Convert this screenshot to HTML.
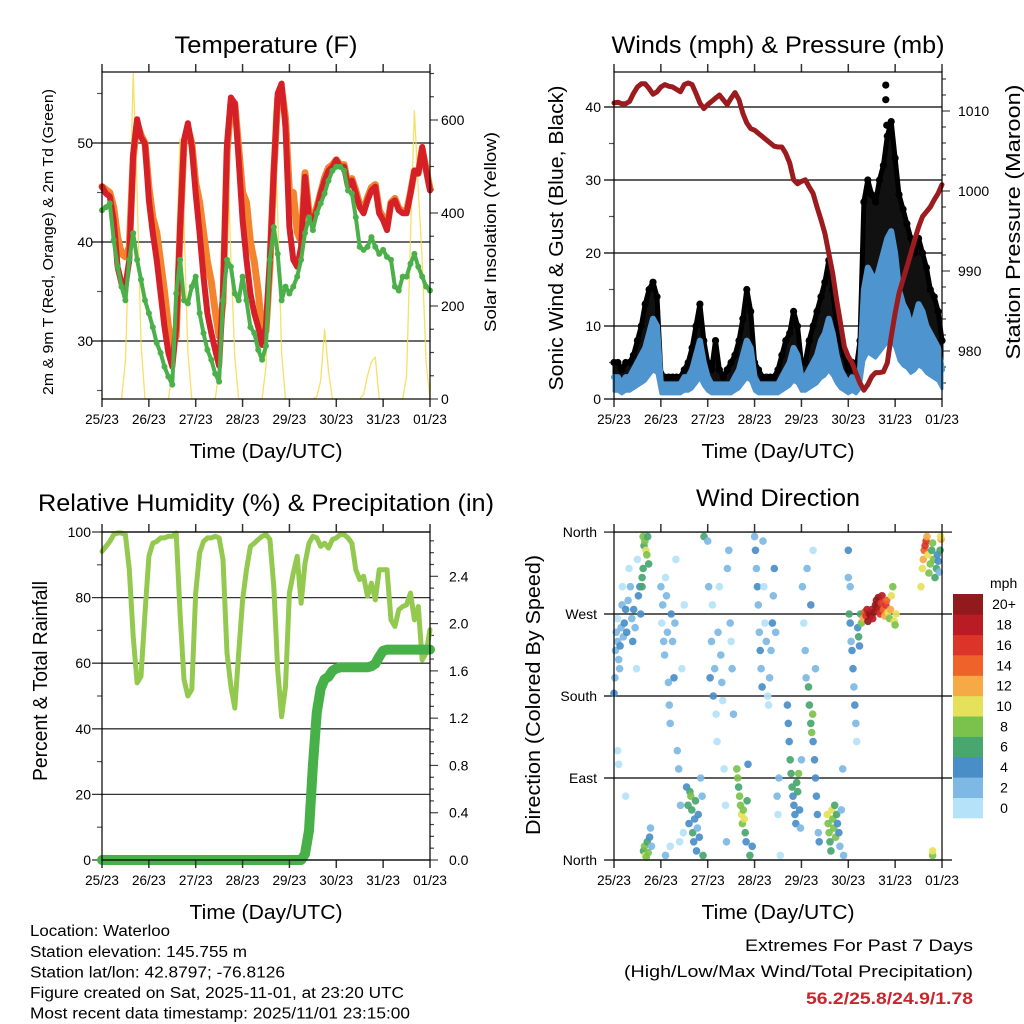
<!DOCTYPE html>
<html><head><meta charset="utf-8">
<style>
html,body{margin:0;padding:0;background:#fff;}
svg{display:block;font-family:"Liberation Sans",sans-serif;}
</style></head>
<body>
<svg id="chart" width="1024" height="1024" viewBox="0 0 1024 1024">
<rect x="0" y="0" width="1024" height="1024" fill="#fff"/>
<text x="266" y="53" font-size="24" text-anchor="middle" textLength="183" lengthAdjust="spacingAndGlyphs">Temperature (F)</text>
<text x="778" y="53" font-size="24" text-anchor="middle" textLength="333" lengthAdjust="spacingAndGlyphs">Winds (mph) &amp; Pressure (mb)</text>
<text x="266" y="511" font-size="24" text-anchor="middle" textLength="456" lengthAdjust="spacingAndGlyphs">Relative Humidity (%) &amp; Precipitation (in)</text>
<text x="778" y="506" font-size="24" text-anchor="middle" textLength="164" lengthAdjust="spacingAndGlyphs">Wind Direction</text>

<text x="266" y="458" font-size="20" text-anchor="middle" textLength="153" lengthAdjust="spacingAndGlyphs">Time (Day/UTC)</text>
<text x="778" y="458" font-size="20" text-anchor="middle" textLength="153" lengthAdjust="spacingAndGlyphs">Time (Day/UTC)</text>
<text x="266" y="919" font-size="20" text-anchor="middle" textLength="153" lengthAdjust="spacingAndGlyphs">Time (Day/UTC)</text>
<text x="778" y="919" font-size="20" text-anchor="middle" textLength="153" lengthAdjust="spacingAndGlyphs">Time (Day/UTC)</text>

<text transform="translate(53,242) rotate(-90)" font-size="15" text-anchor="middle" textLength="306" lengthAdjust="spacingAndGlyphs">2m &amp; 9m T (Red, Orange) &amp; 2m Td (Green)</text>
<text transform="translate(496,232) rotate(-90)" font-size="17" text-anchor="middle" textLength="200" lengthAdjust="spacingAndGlyphs">Solar Insolation (Yellow)</text>
<text transform="translate(563,238) rotate(-90)" font-size="20" text-anchor="middle" textLength="305" lengthAdjust="spacingAndGlyphs">Sonic Wind &amp; Gust (Blue, Black)</text>
<text transform="translate(1020,222) rotate(-90)" font-size="20" text-anchor="middle" textLength="275" lengthAdjust="spacingAndGlyphs">Station Pressure (Maroon)</text>
<text transform="translate(47,681) rotate(-90)" font-size="20" text-anchor="middle" textLength="200" lengthAdjust="spacingAndGlyphs">Percent &amp; Total Rainfall</text>
<text transform="translate(540,695) rotate(-90)" font-size="20" text-anchor="middle" textLength="280" lengthAdjust="spacingAndGlyphs">Direction (Colored By Speed)</text>

<g font-size="15.5">
<text x="30" y="936" textLength="140" lengthAdjust="spacingAndGlyphs">Location: Waterloo</text>
<text x="30" y="957" textLength="217" lengthAdjust="spacingAndGlyphs">Station elevation: 145.755 m</text>
<text x="30" y="977.5" textLength="255" lengthAdjust="spacingAndGlyphs">Station lat/lon: 42.8797; -76.8126</text>
<text x="30" y="998" textLength="374" lengthAdjust="spacingAndGlyphs">Figure created on Sat, 2025-11-01, at 23:20 UTC</text>
<text x="30" y="1018.5" textLength="380" lengthAdjust="spacingAndGlyphs">Most recent data timestamp: 2025/11/01 23:15:00</text>
</g>
<g font-size="17" text-anchor="end">
<text x="973" y="951" textLength="228" lengthAdjust="spacingAndGlyphs">Extremes For Past 7 Days</text>
<text x="973" y="977" textLength="349" lengthAdjust="spacingAndGlyphs">(High/Low/Max Wind/Total Precipitation)</text>
<text x="973" y="1004" font-weight="bold" fill="#c8262c" textLength="167" lengthAdjust="spacingAndGlyphs">56.2/25.8/24.9/1.78</text>
</g>
</svg>
<script>
// ---------- data (2-hourly samples starting 25/23 UTC) ----------
const dayLabels = ["25/23","26/23","27/23","28/23","29/23","30/23","31/23","01/23"];
const hoursPerSample = 2;
const temp2m = [45.6,44.9,44.6,42.2,37.5,35.8,35.5,38.2,48.9,52.4,50.6,49.9,
44.2,40.9,38.2,34.8,31.4,28.8,27.4,31.4,41.5,50.3,52.0,49.6,
44.9,40.9,36.5,32.8,30.8,29.1,27.5,34.8,49.9,54.6,54.0,48.3,
42.2,38.2,34.8,32.8,31.4,29.6,31.5,38.2,47.2,55.0,56.0,51.6,
41.5,38.2,37.5,39.5,46.6,42.5,42.2,43.2,44.9,46.2,47.2,47.6,
48.3,47.6,47.6,45.6,46.2,44.9,43.5,42.9,44.2,45.2,45.6,42.9,
42.2,41.2,43.9,44.2,43.2,42.9,42.9,44.9,47.2,46.9,49.6,47.2,45.2];
const temp9m = [45.6,45.3,45.0,43.5,40.5,38.8,38.5,39.5,48.5,52.0,50.8,50.0,
45.5,42.5,41.0,38.0,35.0,31.5,29.5,30.5,41.0,50.0,51.5,50.0,
46.0,44.0,41.0,38.0,36.0,33.0,30.5,34.0,49.0,54.0,54.0,49.5,
45.0,44.0,40.0,38.0,35.0,31.0,31.0,37.5,47.0,54.5,55.5,52.5,
45.0,45.0,41.0,40.0,47.0,43.0,42.5,43.5,45.0,46.5,47.5,47.8,
48.3,47.8,47.8,45.8,46.4,45.2,43.8,43.2,44.5,45.5,45.8,43.2,
42.5,41.5,44.0,44.4,43.4,43.1,43.1,45.0,47.2,47.0,49.4,47.4,45.4];
const dewpoint = [43.2,43.5,43.9,40.2,37.5,35.5,34.1,38.2,40.9,38.2,36.2,34.1,
32.8,31.4,29.8,28.8,27.4,26.4,25.6,34.8,38.2,34.1,33.8,35.5,
36.5,32.8,30.8,29.1,28.1,26.7,25.9,34.1,38.2,37.5,34.8,34.1,
36.5,34.1,31.4,30.8,29.1,28.1,29.5,38.2,41.5,38.8,34.1,35.5,
34.8,35.5,36.5,38.2,40.9,42.5,41.2,42.9,43.9,44.9,46.2,47.2,
47.6,47.6,47.2,45.2,44.9,42.5,39.5,39.2,39.5,40.5,39.5,38.8,
39.2,38.5,38.2,35.5,35.1,36.5,36.5,37.8,38.8,37.5,36.5,35.5,35.1];
const solar = [0,0,0,0,0,0,80,350,700,450,120,0,
0,0,0,0,0,0,60,300,560,380,100,0,
0,0,0,0,0,0,60,320,560,300,90,0,
0,0,0,0,0,0,70,350,620,400,100,0,
0,0,0,0,0,0,0,5,40,150,60,0,
0,0,0,0,0,0,0,10,50,80,90,0,
0,0,0,0,0,0,50,350,620,450,300,80,0];
const windSpeed = [3,3,2,3,3,4,5,6,7,9,11,10,
2,2,2,2,2,2,3,3,4,6,8,5,
3,2,2,2,2,2,2,3,4,6,8,7,
3,2,2,2,2,2,2,3,4,5,7,6,
3,3,4,5,6,8,9,11,9,6,4,3,
2,3,2,4,15,18,17,16,18,20,22,23,
20,15,13,12,10,11,13,12,10,9,8,7,4];
const windGust = [5,5,4,5,5,6,8,10,13,15,16,14,
3.5,3,3,3,3,3,4,5,7,10,13,8,
5,4,8,4,3,4,5,6,8,11,15,12,
5,4,3,3,3,3,4,6,8,9,12,10,
5,5,8,10,12,14,16,19,15,10,8,6,
4,5,4,8,27,30,28,27,30,32,36,38,
33,28,26,24,22,20,22,20,18,15,14,12,8];
const gustPeakTimes = [5.8,5.8,5.82];
const gustPeakValues = [43,41,37.5];
const pressure = [1011.0,1011.1,1010.9,1010.9,1011.2,1012.2,1013.0,1013.4,1013.4,1012.8,1012.1,1012.4,
1013.0,1013.3,1013.1,1013.0,1012.7,1012.4,1013.3,1013.5,1013.3,1012.2,1011.0,1010.3,
1010.8,1011.2,1011.6,1012.0,1011.4,1010.8,1011.6,1012.3,1011.4,1009.7,1008.5,1007.8,
1007.6,1007.2,1006.8,1006.4,1006.0,1005.6,1005.5,1005.5,1004.7,1003.5,1001.4,1000.9,
1001.2,1001.4,1000.5,999.7,998.0,996.4,994.7,992.2,989.7,986.4,983.5,980.5,
979.3,978.5,977.2,976.0,975.1,975.8,976.8,977.3,977.3,977.4,978.5,981.8,
984.7,987.2,988.9,990.5,992.2,993.9,995.5,996.8,997.4,998.0,998.9,999.7,1000.8];
const humidity = [94.1,95.6,97.1,99.2,99.7,99.7,99.2,88.5,68.2,54.0,56.0,75.3,
92.6,96.6,97.1,98.2,98.2,98.7,98.7,99.7,75.0,55.0,50.0,52.0,
81.4,93.6,97.1,98.2,98.2,98.7,98.2,91.6,63.1,52.9,46.3,63.1,
79.3,88.5,95.6,96.6,97.7,98.7,99.2,97.7,83.4,58.0,43.7,52.9,
81.4,87.5,92.6,78.3,90.5,96.6,98.7,98.2,95.6,96.6,95.1,97.7,
98.2,99.2,99.2,98.2,96.6,88.5,85.5,86.5,80.4,84.4,79.3,88.5,
88.5,88.5,73.2,71.2,76.3,77.3,77.8,81.4,73.2,77.3,61.0,63.1,70.2];
const precipTotal = [0,0,0,0,0,0,0,0,0,0,0,0,
0,0,0,0,0,0,0,0,0,0,0,0,
0,0,0,0,0,0,0,0,0,0,0,0,
0,0,0,0,0,0,0,0,0,0,0,0,
0,0,0,0,0.05,0.25,0.8,1.25,1.45,1.53,1.55,1.6,
1.62,1.63,1.63,1.63,1.63,1.63,1.63,1.63,1.63,1.64,1.66,1.72,
1.77,1.78,1.78,1.78,1.78,1.78,1.78,1.78,1.78,1.78,1.78,1.78,1.78];
// wind direction scatter (time in days, direction in degrees, speed in mph)
const dirTime = [0.00,0.02,0.03,0.05,0.07,0.08,0.10,0.12,0.13,0.15,0.17,0.18,0.20,0.22,0.25,0.27,0.30,0.32,0.35,0.38,0.40,0.42,0.45,0.48,0.50,0.52,0.55,0.57,0.60,0.08,0.10,0.25,
0.62,0.64,0.66,0.68,0.70,0.72,0.74,0.62,0.60,0.63,0.65,0.67,0.69,0.71,0.73,0.76,0.78,0.80,
1.00,1.02,1.04,1.06,1.08,1.10,1.12,1.14,1.16,1.18,1.20,1.22,1.25,1.28,1.30,1.32,1.35,1.38,1.40,1.42,1.45,1.48,1.50,1.10,1.20,
1.55,1.58,1.60,1.62,1.64,1.66,1.68,1.70,1.72,1.74,1.76,1.78,1.80,1.82,1.85,1.88,1.90,1.92,
2.00,2.02,2.05,2.08,2.10,2.12,2.15,2.18,2.20,2.22,2.25,2.28,2.30,2.32,2.35,2.38,2.40,2.42,2.45,2.48,2.50,2.52,2.55,
2.62,2.64,2.66,2.68,2.70,2.72,2.74,2.76,2.78,2.80,2.82,2.84,2.86,2.90,2.95,
3.00,3.02,3.04,3.06,3.08,3.10,3.12,3.14,3.16,3.18,3.20,3.22,3.25,3.28,3.30,3.32,3.35,3.38,3.40,3.42,3.45,3.48,3.50,3.52,3.55,
3.70,3.72,3.74,3.76,3.78,3.80,3.82,3.84,3.86,3.88,3.90,3.92,3.94,3.96,3.98,4.00,
4.02,4.05,4.08,4.10,4.12,4.15,4.17,4.20,4.22,4.24,4.25,4.28,4.30,4.32,4.34,4.36,4.38,4.20,4.25,4.30,
4.55,4.57,4.59,4.61,4.63,4.65,4.67,4.69,4.71,4.73,4.75,4.77,4.80,4.82,4.85,4.88,4.90,
5.00,5.00,5.02,5.04,5.06,5.08,5.10,5.12,5.14,5.16,5.18,5.04,5.20,5.22,5.24,5.26,5.28,
5.32,5.35,5.38,5.40,5.42,5.45,5.48,5.50,5.52,5.55,5.58,5.60,5.62,5.64,5.66,5.68,5.70,5.72,5.75,5.78,5.80,5.82,5.85,5.88,5.90,5.92,5.95,5.98,6.00,6.02,
6.55,6.58,6.60,6.62,6.64,6.66,6.68,6.70,6.72,6.75,6.78,6.80,6.82,6.85,6.88,6.90,6.92,6.94,6.96,6.98,6.97,6.80,6.80];
const dirDegrees = [183,200,230,250,265,240,220,210,235,255,280,300,245,260,275,250,285,320,300,265,240,275,255,210,330,290,300,270,310,120,105,70,
355,345,350,340,335,355,325,320,300,10,15,5,3,20,8,25,35,15,
300,260,280,240,225,310,290,250,195,170,150,270,240,200,260,330,120,100,20,60,210,30,280,5,15,
80,60,40,75,70,55,30,20,45,65,10,35,50,25,90,70,5,355,
350,300,200,240,280,180,210,160,130,250,300,225,195,175,100,60,20,320,340,260,240,210,160,
100,90,80,70,60,50,40,55,45,30,20,65,105,5,15,
355,340,320,300,280,250,230,210,190,350,300,260,240,180,170,200,230,260,290,320,250,70,50,90,5,
170,150,130,110,95,80,70,60,50,40,85,75,95,55,35,110,
300,260,230,200,320,190,170,150,140,160,130,110,90,70,50,30,20,280,340,210,
50,40,30,20,10,55,45,35,60,25,50,40,30,15,55,100,5,
340,310,270,260,240,230,210,190,170,150,130,300,255,245,235,270,260,
265,272,268,275,262,270,268,275,265,272,280,285,278,288,275,270,282,290,275,268,280,285,272,265,275,290,300,262,258,270,
300,320,330,340,345,350,355,335,315,325,340,348,330,310,320,335,328,316,340,352,355,5,10];
const dirSpeed = [4,3,2,3,1,2,3,2,4,3,2,1,3,4,5,4,2,1,2,3,4,5,3,1,1,4,5,4,6,1,0,1,
8,7,9,10,9,7,6,7,6,7,9,10,9,6,8,4,3,2,
2,1,3,2,3,1,2,3,2,3,3,4,3,4,2,1,2,3,1,2,1,1,1,2,1,
5,6,5,7,8,7,6,5,4,6,4,3,5,4,3,2,6,6,
3,2,4,3,1,4,3,1,1,2,1,2,3,1,1,1,2,2,3,2,1,3,2,
9,8,7,8,9,10,8,9,10,7,5,6,4,6,4,
3,4,3,4,3,2,4,3,4,2,1,1,2,1,1,2,3,4,3,4,2,2,1,2,1,
4,5,4,7,6,7,5,4,5,4,7,6,8,4,3,2,
2,1,3,2,3,7,6,7,8,8,4,4,4,4,4,3,4,4,1,2,
11,9,8,7,6,10,8,9,7,8,6,5,4,3,3,2,2,
4,3,6,4,3,4,4,3,4,2,1,2,5,6,4,7,8,
12,14,16,18,20,20,21,18,19,20,20,22,20,21,18,16,17,18,14,12,16,15,10,9,12,10,8,11,8,10,
10,11,12,14,16,17,13,10,9,8,7,9,8,6,7,5,4,3,6,12,10,8,10];
const speedBinLabels = ["0","2","4","6","8","10","12","14","16","18","20+"];
const speedBinColors = ["#b5e2f8","#7db9e4","#4a8ec7","#48a66f","#7bc24c","#e5e15a","#f6a945","#ef6229","#dc3428","#b91c24","#92191c"];
const tempTicks = [30,40,50];
const solarTicks = [0,200,400,600];
const windTicks = [0,10,20,30,40];
const pressureTicks = [980,990,1000,1010];
const rhTicks = [0,20,40,60,80,100];
const rainTicks = ["0.0","0.4","0.8","1.2","1.6","2.0","2.4"];
const dirTickLabels = ["North","East","South","West","North"];

// ---------- helpers ----------
const svg = document.getElementById('chart');
const SNS = svg.namespaceURI;
function mk(tag, attrs, parent){
  const e = document.createElementNS(SNS, tag);
  for (const k in attrs) e.setAttribute(k, attrs[k]);
  (parent || svg).appendChild(e);
  return e;
}
function group(name){
  const g = mk('g', {});
  
  
  return g;
}
const sampleDays = i => i * hoursPerSample / 24;
const P1 = {x0:102, x1:430, y0:72, y1:399};
const P2 = {x0:614, x1:942, y0:72, y1:399};
const P3 = {x0:102, x1:430, y0:532, y1:860};
const P4 = {x0:614, x1:942, y0:532, y1:860};
const xScale = P => t => P.x0 + t * (P.x1 - P.x0) / 7;
const yTemp = v => 341 - (v - 30) * 9.9;
const ySolar = v => 399 - v * 0.465;
const yWind = v => 399 - v * 7.3;
const yPres = v => 111 + (1010 - v) * 8;
const yRH = v => 860 - v * 3.28;
const yRain = v => 860 - v * 118.2;
const yDir = v => 860 - v * 0.911;

function line(g, x1, y1, x2, y2, color, w, name){
  const e = mk('line', {x1:x1, y1:y1, x2:x2, y2:y2, stroke:color, 'stroke-width':w}, g);
  
  
  return e;
}
function label(g, x, y, txt, anchor, size, name){
  const e = mk('text', {x:x, y:y, 'text-anchor':anchor, 'font-size':size}, g);
  e.textContent = txt;
  
  
  return e;
}
function series(g, vals, xf, yf, color, w, name, opacity){
  const pts = vals.map((v,i) => xf(sampleDays(i)).toFixed(1) + ',' + yf(v).toFixed(1)).join(' ');
  const e = mk('polyline', {points:pts, fill:'none', stroke:color, 'stroke-width':w, 'stroke-linejoin':'round', 'stroke-linecap':'round', 'stroke-opacity':opacity || 1}, g);
  
  
  return e;
}
function band(g, lo, hi, xf, yf, color, name){
  const up = hi.map((v,i) => xf(sampleDays(i)).toFixed(1) + ',' + yf(v).toFixed(1));
  const dn = lo.map((v,i) => xf(sampleDays(i)).toFixed(1) + ',' + yf(v).toFixed(1)).reverse();
  const e = mk('polygon', {points:up.concat(dn).join(' '), fill:color, stroke:color, 'stroke-width':3, 'stroke-linejoin':'round'}, g);
  
  
  return e;
}
function dots(g, vals, xf, yf, color, r, name){
  vals.forEach((v,i) => {
    const c = mk('circle', {cx:xf(sampleDays(i)).toFixed(1), cy:yf(v).toFixed(1), r:r, fill:color}, g);
    
    
  });
}
function frame(P, key){
  const g = group(key + '-axes');
  const xf = xScale(P);
  dayLabels.forEach((d,i) => {
    const x = xf(i);
    line(g, x, P.y1, x, P.y1 + 8, '#333', 1.5, 'x-tick');
    line(g, x, P.y0, x, P.y0 - 8, '#333', 1.5, 'x-tick-top');
    label(g, x, P.y1 + 25, d, 'middle', 13.5, 'x-tick-label');
  });
  const r = mk('rect', {x:P.x0, y:P.y0, width:P.x1-P.x0, height:P.y1-P.y0, fill:'none', stroke:'#000', 'stroke-width':1.2}, g);
  
  
  return g;
}

// ---------- Panel 1: temperature ----------
(function(){
  const P = P1, xf = xScale(P);
  const grid = group('temp-grid');
  tempTicks.forEach(v => {
    line(grid, P.x0 - 10, yTemp(v), P.x1, yTemp(v), '#555', 1.8, 'temp-gridline');
    label(grid, 93, yTemp(v) + 5, String(v), 'end', 14, 'temp-tick-label');
  });
  [25,35,45,55].forEach(v => line(grid, P.x0 - 5, yTemp(v), P.x0, yTemp(v), '#555', 1.2, 'temp-minor-tick'));
  for (let s = 0; s <= 700; s += 50) {
    const major = s % 200 === 0;
    line(grid, P.x1, ySolar(s), P.x1 + (major ? 8 : 4), ySolar(s), '#444', 1.2, 'solar-tick');
  }
  solarTicks.forEach(v => label(grid, 441, ySolar(v) + 5, String(v), 'start', 14, 'solar-tick-label'));
  const g = group('temp-series');
  series(g, solar, xf, ySolar, '#f7d94a', 1.3, 'solar-line', 0.85);
  series(g, temp9m, xf, yTemp, '#f4832e', 7, 'temp-9m-line');
  series(g, temp2m, xf, yTemp, '#d52027', 6, 'temp-2m-line');
  series(g, dewpoint, xf, yTemp, '#4cb04a', 4, 'dewpoint-line');
  dots(g, dewpoint, xf, yTemp, '#4cb04a', 3, 'dewpoint-point');
  frame(P, 'temp');
})();

// ---------- Panel 2: winds & pressure ----------
(function(){
  const P = P2, xf = xScale(P);
  const grid = group('wind-grid');
  windTicks.forEach(v => {
    line(grid, P.x0 - 10, yWind(v), P.x1, yWind(v), '#000', 1.2, 'wind-gridline');
    label(grid, 601, yWind(v) + 5, String(v), 'end', 14, 'wind-tick-label');
  });
  [5,15,25,35].forEach(v => line(grid, P.x0 - 5, yWind(v), P.x0, yWind(v), '#555', 1.2, 'wind-minor-tick'));
  for (let p = 976; p <= 1014; p += 2) {
    const major = p % 10 === 0;
    line(grid, P.x1, yPres(p), P.x1 + (major ? 8 : 4), yPres(p), '#444', 1.2, 'pressure-tick');
  }
  pressureTicks.forEach(v => label(grid, 958, yPres(v) + 5, String(v), 'start', 14, 'pressure-tick-label'));
  const g = group('wind-series');
  band(g, windSpeed, windGust, xf, yWind, '#111', 'gust-band');
  series(g, windGust, xf, yWind, '#000', 5, 'gust-line');
  dots(g, windGust, xf, yWind, '#000', 3.6, 'gust-point');
  gustPeakTimes.forEach((t,i) => {
    const c = mk('circle', {cx:xf(t), cy:yWind(gustPeakValues[i]), r:3.6, fill:'#000'}, g);
    
    
  });
  const lull = windSpeed.map(v => v * 0.35);
  band(g, lull, windSpeed, xf, yWind, '#4e94cf', 'wind-speed-band');
  series(g, windSpeed, xf, yWind, '#4e94cf', 6, 'wind-speed-line');
  series(g, pressure, xf, yPres, '#9b1b1e', 5, 'pressure-line');
  frame(P, 'wind');
})();

// ---------- Panel 3: humidity & precipitation ----------
(function(){
  const P = P3, xf = xScale(P);
  const grid = group('rh-grid');
  rhTicks.forEach(v => {
    line(grid, P.x0 - 10, yRH(v), P.x1, yRH(v), '#333', 1.3, 'rh-gridline');
    label(grid, 91, yRH(v) + 5, String(v), 'end', 14, 'rh-tick-label');
  });
  [10,30,50,70,90].forEach(v => line(grid, P.x0 - 5, yRH(v), P.x0, yRH(v), '#555', 1.2, 'rh-minor-tick'));
  for (let k = 0; k <= 27; k++) {
    const major = k % 4 === 0;
    line(grid, P.x1, yRain(k / 10), P.x1 + (major ? 8 : 4), yRain(k / 10), '#444', 1.2, 'rain-tick');
  }
  rainTicks.forEach(v => label(grid, 449, yRain(parseFloat(v)) + 5, v, 'start', 14, 'rain-tick-label'));
  const g = group('rh-series');
  series(g, humidity, xf, yRH, '#93c94f', 5, 'humidity-line');
  series(g, precipTotal, xf, yRain, '#48b048', 10, 'precip-line');
  frame(P, 'rh');
})();

// ---------- Panel 4: wind direction ----------
(function(){
  const P = P4, xf = xScale(P);
  const grid = group('dir-grid');
  dirTickLabels.forEach((lab,i) => {
    const y = yDir(i * 90);
    line(grid, P.x0 - 10, y, P.x1 + 10, y, '#000', 1.2, 'dir-gridline');
    label(grid, 597, y + 5, lab, 'end', 14, 'dir-tick-label');
  });
  const g = group('dir-points');
  dirTime.forEach((t,i) => {
    const bin = Math.min(10, Math.floor(dirSpeed[i] / 2));
    const c = mk('circle', {cx:xf(t).toFixed(1), cy:yDir(dirDegrees[i]).toFixed(1), r:3.8, fill:speedBinColors[bin], 'fill-opacity':0.92}, g);
    
    
  });
  frame(P, 'dir');
  const leg = group('speed-colorbar');
  label(leg, 990, 588, 'mph', 'start', 14, 'colorbar-title');
  const bh = (818 - 594) / 11;
  speedBinColors.forEach((col,i) => {
    const y = 818 - (i + 1) * bh;
    const r = mk('rect', {x:953, y:y.toFixed(1), width:30, height:(bh + 0.3).toFixed(1), fill:col}, leg);
    
    
    label(leg, 1004, y + bh / 2 + 5, speedBinLabels[i], 'middle', 14, 'colorbar-label');
  });
})();
</script>
</body></html>
